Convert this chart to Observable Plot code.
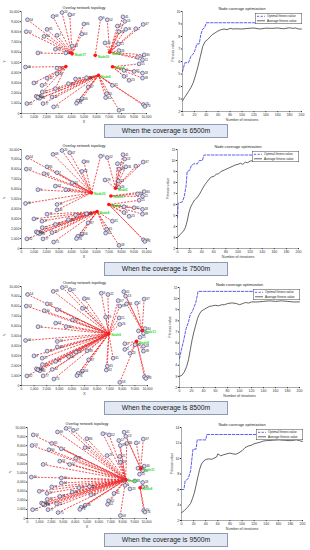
<!DOCTYPE html>
<html><head><meta charset="utf-8">
<script src="https://cdn.jsdelivr.net/npm/d3@7"></script>
<script src="https://cdn.jsdelivr.net/npm/@observablehq/plot@0.6"></script>
<style>
body{margin:0;background:#fff;}
#root{position:relative;width:310px;height:550px;overflow:hidden;font-family:"Liberation Sans",Arial,sans-serif;}
.cap{position:absolute;left:104px;width:124px;height:14px;box-sizing:border-box;border:1px solid #8e9ab0;background:#e3e9f4;font-size:6.8px;line-height:12px;text-align:center;color:#1a1a1a;white-space:nowrap;}
</style></head>
<body><div id="root"></div>
<script>
// ---- sensor nodes (same layout in every panel) ----
const nodeX = [480,380,2520,3240,3860,2040,1800,2840,4990,4830,4050,2710,1310,3540,320,2840,2840,2040,990,1640,2710,1660,1180,1450,2440,1720,430,2570,4320,5200,4500,4850,5330,6330,6860,8120,8260,7670,8340,7800,9730,9140,6680,7750,7800,9810,9280,9680,9410,8200,9010,9680,9680,8610,8200,7270,6810,6730,7800,9760,9870,3750,1310,4400];
const nodeY = [9190,8020,9510,9900,9680,8250,7560,7660,8770,7790,6620,6300,5940,5940,4550,4450,3900,3470,2990,2760,2440,2110,1690,1490,1620,970,970,650,3380,3510,1230,1460,2600,9320,9190,9480,9030,8570,8250,8020,8730,8310,6920,6820,6170,5750,5520,5260,4870,4220,4120,3960,3470,3250,3640,2760,1950,1560,320,880,710,2920,1600,1000];
const nodeLabel = [54,53,69,20,47,85,90,7,86,64,33,63,3,50,40,19,44,71,8,27,61,12,60,84,14,77,82,75,73,88,67,56,87,9,52,41,13,57,36,89,37,2,29,21,26,30,49,11,15,1,81,18,39,23,5,31,65,62,58,70,74,34,43,76];

// ---- cluster heads and node-to-head assignment per coverage ----
const coverage = ["6500m","7500m","8500m","9500m"];
const headX1 = [4050,3550,5900,7050,7280,6160];
const headY1 = [5850,4600,5700,6000,4580,3750];
const headName1 = ["Node17","","Node30","Node5","Node8","Node4"];
const assign1 = [0,0,0,0,0,0,0,0,0,0,0,0,0,0,1,1,1,1,1,1,1,5,5,5,5,5,5,5,5,5,5,5,5,2,3,3,3,3,3,3,3,3,3,3,3,3,3,3,4,4,4,4,4,4,4,5,5,5,5,5,5,5,1,5];

const headX2 = [5600,7520,7150,6990,6050];
const headY2 = [5620,6090,5300,4440,3740];
const headName2 = ["Node30","Node5","Node17","Node8","Node4"];
const assign2 = [0,0,0,0,0,0,0,0,0,0,0,0,0,0,0,0,0,4,4,4,4,4,4,4,4,4,4,4,4,4,4,4,4,0,1,1,1,1,1,1,1,1,1,1,1,2,2,2,3,3,3,3,3,3,3,4,4,4,4,3,3,4,4,4];

const headX3 = [6930,9580,9130];
const headY3 = [5220,5560,4470];
const headName3 = ["Node6","Node11","Node8"];
const assign3 = [0,0,0,0,0,0,0,0,0,0,0,0,0,0,0,0,0,0,0,0,0,0,0,0,0,0,0,0,0,0,0,0,0,0,0,1,1,0,1,0,1,1,0,0,0,1,1,1,2,2,2,2,2,2,2,0,0,0,2,2,2,0,0,0];

const headX4 = [8250,9520,9460];
const headY4 = [4260,5460,3380];
const headName4 = ["Node6","Node11","Node8"];
const assign4 = [0,0,0,0,0,0,0,0,0,0,0,0,0,0,0,0,0,0,0,0,0,0,0,0,0,0,0,0,0,0,0,0,0,0,0,1,1,0,0,0,1,1,0,0,0,1,1,1,1,0,0,2,2,0,0,0,0,0,0,2,2,0,0,0];

// ---- fitness curves ----
const opt1It = [0,4,10,14,18,21,24,28,31,34,37,40,200];
const opt1V  = [5.2,5.9,5.9,6.4,6.6,6.9,7.4,7.4,8.2,8.6,8.7,9.1,9.1];
const avg1It = [0,3,6,10,14,18,22,26,30,34,38,42,46,50,55,60,65,70,75,80,85,90,100,110,120,130,140,150,160,170,180,185,190,195,200];
const avg1V  = [2.85,3.1,3.3,3.6,3.9,4.3,4.9,5.6,6.4,7.2,7.6,7.75,7.95,8.15,8.3,8.45,8.55,8.6,8.55,8.65,8.6,8.62,8.6,8.65,8.68,8.6,8.67,8.65,8.68,8.62,8.7,8.65,8.68,8.6,8.6];

const opt2It = [0,1,8,11,14,16,20,23,27,33,36,41,44,200];
const opt2V  = [4.8,6.1,6.25,6.7,7.6,9.0,9.1,9.55,9.7,9.7,10.0,10.0,10.5,10.5];
const avg2It = [0,5,10,13,16,19,22,25,28,32,36,40,44,48,52,56,60,64,68,72,78,84,90,96,100,104,108,112,116,120,126,132,140,150,160,170,180,190,200];
const avg2V  = [3.0,3.3,3.6,3.9,4.5,5.3,5.8,6.1,6.4,6.6,6.9,7.3,7.7,8.0,8.3,8.5,8.55,8.75,8.8,9.0,9.15,9.3,9.45,9.6,9.65,9.75,9.65,9.85,9.8,9.95,10.0,10.05,10.1,10.1,10.15,10.2,10.2,10.25,10.2];

const opt3It = [0,3,7,11,15,18,21,27,31,200];
const opt3V  = [4.6,5.35,6.25,7.3,7.9,8.6,8.8,9.6,10.65,10.65];
const avg3It = [0,4,8,12,15,18,21,24,27,30,33,36,40,45,50,55,60,65,70,75,80,85,90,95,100,105,110,115,120,130,140,150,160,170,180,190,200];
const avg3V  = [3.0,3.1,3.4,3.9,4.5,5.4,6.3,7.0,7.6,8.2,8.6,8.85,9.0,9.15,9.3,9.35,9.4,9.35,9.45,9.45,9.55,9.6,9.6,9.55,9.45,9.55,9.65,9.6,9.7,9.7,9.75,9.8,9.75,9.8,9.75,9.7,9.7];

const opt4It = [0,4,6,11,15,19,24,26,40,42,200];
const opt4V  = [6.0,6.0,7.1,7.4,8.4,11.2,11.2,12.4,12.4,13.1,13.1];
const avg4It = [0,5,10,15,18,21,24,27,30,33,37,41,45,50,55,58,60,62,65,70,75,80,85,90,95,100,105,110,115,120,125,130,135,140,150,160,170,180,190,195,200];
const avg4V  = [3.0,3.3,3.7,4.2,4.8,5.5,6.5,7.6,8.6,9.3,9.7,9.9,9.95,9.9,10.1,10.2,10.6,10.5,10.35,10.5,10.6,10.7,10.6,10.55,10.75,11.0,11.4,11.6,11.7,11.9,12.0,12.1,12.25,12.3,12.35,12.4,12.35,12.3,12.4,12.3,12.2];

const fitYMax = [10,11,11,14];
const fitYStep = [1,1,1,2];

// ---- layout (page px) ----
const topoFrames = [[21,11,146,113],[21,149,146,248],[21,286,147,385],[27,427,146,518]];
const fitFrames  = [[182,11,301,111],[177,149,298,248],[179,287,299,387],[181,427,302,520]];
const capTops = [124,262,401,533];

const FONT = '"Liberation Sans", Arial, sans-serif';
const root = document.getElementById("root");
function place(el, left, top) {
  el.style.position = "absolute"; el.style.left = left + "px"; el.style.top = top + "px";
  root.appendChild(el);
}
const id = d => d;

function topo(frame, hx, hy, hname, assign) {
  const mL = 22, mR = 8, mT = 10, mB = 13;
  const fw = frame[2] - frame[0], fh = frame[3] - frame[1];
  const nodes = nodeX.map((x, i) => ({x, y: nodeY[i], label: String(nodeLabel[i]), h: assign[i]}));
  const heads = hx.map((x, i) => ({x, y: hy[i], name: hname[i]}));
  const links = nodes.map(n => ({x1: n.x, y1: n.y, x2: heads[n.h].x, y2: heads[n.h].y}));
  const p = Plot.plot({
    width: fw + mL + mR, height: fh + mT + mB,
    marginLeft: mL, marginRight: mR, marginTop: mT, marginBottom: mB,
    style: {fontSize: "3.3px", fontFamily: FONT, background: "transparent", color: "#333", overflow: "visible"},
    x: {domain: [0, 10000]}, y: {domain: [0, 10000]},
    marks: [
      Plot.link(links, {x1: "x1", y1: "y1", x2: "x2", y2: "y2", stroke: "#f03030", strokeWidth: 0.85, strokeDasharray: "2,1.3"}),
      Plot.dot(nodes, {x: "x", y: "y", r: 1.9, stroke: "#2b2b5a", strokeWidth: 0.55, fill: "#d8d8f6"}),
      Plot.text(nodes, {x: "x", y: "y", text: "label", dx: 2.2, textAnchor: "start", fontSize: 3.0, fill: "#222"}),
      Plot.dot(heads, {x: "x", y: "y", r: 1.8, fill: "#ff1414"}),
      Plot.text(heads, {x: "x", y: "y", text: "name", dx: 2.4, dy: 1.4, textAnchor: "start", fontSize: 3.2, fill: "#1fd61f", fontWeight: "bold"}),
      Plot.axisX({ticks: d3.range(0, 10001, 1000), tickFormat: d3.format(","), tickSize: 1.2, tickPadding: 1, label: null}),
      Plot.axisY({ticks: d3.range(0, 10001, 1000), tickFormat: d3.format(","), tickSize: 1.2, tickPadding: 1, label: null}),
      Plot.ruleX([0], {stroke: "#555", strokeWidth: 0.5}),
      Plot.ruleY([0], {stroke: "#555", strokeWidth: 0.5}),
      Plot.text(["Overlay network topology"], {text: id, frameAnchor: "top", dy: -5, fontSize: 3.8, fill: "#222"}),
      Plot.text(["X"], {text: id, frameAnchor: "bottom", dy: 9, fontSize: 3.6, fill: "#333"}),
      Plot.text(["Y"], {text: id, frameAnchor: "left", dx: -17, rotate: -90, fontSize: 3.6, fill: "#333"})
    ]
  });
  place(p, frame[0] - mL, frame[1] - mT);
}

function fit(frame, yMax, yStep, oIt, oV, aIt, aV) {
  const mL = 14, mR = 4, mT = 8, mB = 12;
  const fw = frame[2] - frame[0], fh = frame[3] - frame[1];
  const opt = oIt.map((t, i) => ({t, v: oV[i]}));
  const avg = aIt.map((t, i) => ({t, v: aV[i]}));
  const p = Plot.plot({
    width: fw + mL + mR, height: fh + mT + mB,
    marginLeft: mL, marginRight: mR, marginTop: mT, marginBottom: mB,
    style: {fontSize: "3.5px", fontFamily: FONT, background: "transparent", color: "#333", overflow: "visible"},
    x: {domain: [0, 200]}, y: {domain: [2, yMax]},
    marks: [
      Plot.line(avg, {x: "t", y: "v", stroke: "#222", strokeWidth: 0.7}),
      Plot.line(opt, {x: "t", y: "v", stroke: "#4b4bf0", strokeWidth: 0.9, strokeDasharray: "2.6,1.6"}),
      Plot.axisX({ticks: d3.range(0, 201, 20), tickSize: 1.2, tickPadding: 1, label: null}),
      Plot.axisY({ticks: d3.range(2, yMax + 0.01, yStep), tickSize: 1.2, tickPadding: 1, label: null}),
      Plot.ruleX([0], {stroke: "#555", strokeWidth: 0.5}),
      Plot.ruleY([2], {stroke: "#555", strokeWidth: 0.5}),
      Plot.text(["Node coverage optimization"], {text: id, frameAnchor: "top", dy: -4.5, fontSize: 3.8, fill: "#222"}),
      Plot.text(["Number of iterations"], {text: id, frameAnchor: "bottom", dy: 9, fontSize: 3.6, fill: "#333"}),
      Plot.text(["Fitness value"], {text: id, frameAnchor: "left", dx: -10, rotate: -90, fontSize: 3.6, fill: "#333"})
    ]
  });
  place(p, frame[0] - mL, frame[1] - mT);
  // legend box
  const lw = 47, lh = 11;
  const lg = d3.create("svg").attr("width", lw).attr("height", lh)
    .style("font-family", FONT).style("font-size", "3.1px");
  lg.append("rect").attr("x", 0.25).attr("y", 0.25).attr("width", lw - 0.5).attr("height", lh - 0.5)
    .attr("fill", "#fff").attr("stroke", "#444").attr("stroke-width", 0.5);
  lg.append("line").attr("x1", 2).attr("x2", 10).attr("y1", 3.3).attr("y2", 3.3)
    .attr("stroke", "#4b4bf0").attr("stroke-width", 0.9).attr("stroke-dasharray", "2.2,1.4");
  lg.append("line").attr("x1", 2).attr("x2", 10).attr("y1", 7.8).attr("y2", 7.8)
    .attr("stroke", "#222").attr("stroke-width", 0.7);
  lg.append("text").attr("x", 12).attr("y", 4.4).text("Optimal fitness value").attr("fill", "#222");
  lg.append("text").attr("x", 12).attr("y", 8.9).text("Average fitness value").attr("fill", "#222");
  place(lg.node(), frame[2] + 1 - lw, frame[1] + 2);
}

const heads = [[headX1, headY1, headName1, assign1], [headX2, headY2, headName2, assign2], [headX3, headY3, headName3, assign3], [headX4, headY4, headName4, assign4]];
const fits = [[opt1It, opt1V, avg1It, avg1V], [opt2It, opt2V, avg2It, avg2V], [opt3It, opt3V, avg3It, avg3V], [opt4It, opt4V, avg4It, avg4V]];

coverage.forEach((c, i) => {
  topo(topoFrames[i], ...heads[i]);
  fit(fitFrames[i], fitYMax[i], fitYStep[i], ...fits[i]);
  const cap = document.createElement("div");
  cap.className = "cap";
  cap.style.top = capTops[i] + "px";
  cap.textContent = "When the coverage is " + c;
  root.appendChild(cap);
});
</script>
</body></html>
